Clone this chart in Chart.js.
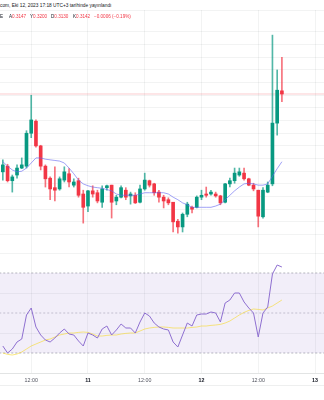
<!DOCTYPE html>
<html>
<head>
<meta charset="utf-8">
<script src="https://cdn.jsdelivr.net/npm/chart.js@4.4.0/dist/chart.umd.min.js"></script>
<style>
body{margin:0;background:#fff;width:324px;height:400px;overflow:hidden;position:relative;font-family:"Liberation Sans",Arial,sans-serif}
canvas{position:absolute;left:0}
#main{top:10px}
#rsi{top:253px}
.t{position:absolute;white-space:nowrap;font-size:10px;line-height:12px;color:#131722;z-index:2;transform:scale(0.46);transform-origin:0 0}
.r{color:#f23645}
</style>
</head>
<body>
<canvas id="main" width="324" height="243"></canvas>
<canvas id="rsi" width="324" height="147"></canvas>
<div class="t" style="left:0;top:3px;transform:scale(0.48)">com, Eki 12, 2023 17:18 UTC+3 tarihinde yayınlandı</div>
<script>
// hourly candles, first one = Oct 10 06:00 (hour -18 from Oct 11 00:00)
const opens = [0.3019,0.3028,0.3005,0.3014,0.3025,0.3028,0.3080,0.3099,0.3060,0.3028,
  0.3009,0.2994,0.2992,0.3006,0.3016,0.2998,0.3005,0.2984,0.2965,0.2989,
  0.2986,0.2971,0.2994,0.2998,0.2973,0.2979,0.2990,0.2981,0.2982,0.2971,
  0.2992,0.3005,0.3000,0.2987,0.2979,0.2975,0.2971,0.2941,0.2932,0.2952,
  0.2963,0.2963,0.2979,0.2984,0.2984,0.2984,0.2981,0.2971,0.3000,0.3005,
  0.3014,0.3017,0.3008,0.2998,0.2990,0.2948,0.2987,0.3000,0.3096,0.3147]
const highs = [0.3038,0.3031,0.3014,0.3030,0.3041,0.3084,0.3140,0.3101,0.3061,0.3030,
  0.3011,0.3027,0.3011,0.3027,0.3024,0.3008,0.3009,0.2990,0.2990,0.2997,
  0.2990,0.2997,0.2998,0.2998,0.2982,0.2997,0.2994,0.2987,0.2986,0.2998,
  0.3017,0.3006,0.3001,0.2990,0.2982,0.2978,0.2971,0.2944,0.2954,0.2971,
  0.2965,0.2981,0.2990,0.2995,0.2990,0.2987,0.2982,0.3001,0.3009,0.3025,
  0.3025,0.3025,0.3009,0.3001,0.2990,0.2994,0.3003,0.3235,0.3180,0.3200]
const lows = [0.3006,0.3003,0.2987,0.3009,0.3024,0.3025,0.3073,0.3058,0.3022,0.2995,
  0.2975,0.2973,0.2990,0.3003,0.2995,0.2995,0.2979,0.2938,0.2956,0.2979,
  0.2970,0.2963,0.2990,0.2946,0.2967,0.2978,0.2975,0.2968,0.2969,0.2970,
  0.2990,0.2995,0.2982,0.2971,0.2962,0.2967,0.2924,0.2922,0.2924,0.2948,
  0.2954,0.2962,0.2975,0.2979,0.2982,0.2979,0.2967,0.2970,0.2995,0.3001,
  0.3012,0.3006,0.2997,0.2989,0.2932,0.2946,0.2986,0.2997,0.3077,0.3130]
const closes = [0.3030,0.3005,0.3011,0.3025,0.3030,0.3080,0.3101,0.3060,0.3028,0.3008,
  0.2992,0.2990,0.3008,0.3019,0.3003,0.3003,0.2982,0.2963,0.2989,0.2984,
  0.2973,0.2992,0.2997,0.2971,0.2979,0.2994,0.2979,0.2984,0.2970,0.2992,
  0.3006,0.2998,0.2986,0.2979,0.2973,0.2970,0.2940,0.2932,0.2952,0.2968,
  0.2960,0.2979,0.2982,0.2982,0.2987,0.2981,0.2970,0.3000,0.3005,0.3017,
  0.3019,0.3008,0.2998,0.2992,0.2949,0.2990,0.2998,0.3096,0.3148,0.3142]
const ma = [0.3035,0.3028,0.3022,0.3019,0.3020,0.3025,0.3033,0.3041,0.3041,0.3039,
  0.3038,0.3037,0.3036,0.3033,0.3025,0.3016,0.3006,0.3000,0.2997,0.2995,
  0.2994,0.2993,0.2991,0.2989,0.2984,0.2982,0.2982,0.2982,0.2982,0.2984,
  0.2986,0.2986,0.2986,0.2986,0.2986,0.2984,0.2979,0.2975,0.2970,0.2967,
  0.2963,0.2963,0.2963,0.2963,0.2963,0.2965,0.2968,0.2975,0.2982,0.2989,
  0.2995,0.3000,0.3001,0.3000,0.2998,0.2998,0.3000,0.3012,0.3024,0.3035]
const rsi = [33.5,30,32,35.5,37,49,52.5,43,39,36.5,
  35.5,37.5,40,42,39.5,39,36,33.5,40,39,
  37.5,42,43.5,39,41.5,44.5,42.5,42.5,40,45.5,
  50,48.5,45,43,42,41.5,35.5,33,39,45,
  43.5,49,49.5,49.5,50.5,50,45.5,55,56.5,60,
  60,55.5,52.5,50,38,50,53,69.5,74,73]
const rsiMa = [30,29.3,29,29.5,30.5,32,33.5,34.5,35.5,36.5,
  37,38,39,39.5,40,40,40.3,40.5,40.3,39.5,
  38.5,38.5,38.8,39,39,39.5,39.8,40,40,41,
  42,42.5,42.8,43,43,42.8,42.5,42.5,42.5,42.5,
  42.8,43,43.5,43.5,43.8,44,44.3,45,46,47.5,
  49,50.3,51.3,52,51.8,51.5,52.5,53.5,55,56.5]
const rsiLevels = [70, 50, 30]
const tickHours = [-12, 0, 12, 24, 36, 48]
const tickLabels = ['12:00', '11', '12:00', '12', '12:00', '13']

const firstHour = -18
const hours = opens.map((_, i) => i + firstHour)
const xMin = -18.6, xMax = 49.9
const up = '#089981', down = '#f23645'
const candleColors = opens.map((o, i) => closes[i] >= o ? up : down)
const wickColors = opens.map((o, i) => closes[i] >= o ? 'rgba(8,153,129,0.7)' : 'rgba(242,54,69,0.7)')
const last = closes.length - 1

// legend line: symbol tail + last candle OHLC + change
const chg = closes[last] - closes[last - 1]
const pct = chg / closes[last - 1] * 100
const sign = v => v < 0 ? '\u2212' : '+'
const items = [
  ['E', '', 0],
  ['A', opens[last].toFixed(4), 9],
  ['Y', highs[last].toFixed(4), 29.5],
  ['D', lows[last].toFixed(4), 51],
  ['K', closes[last].toFixed(4), 72.5],
  ['', sign(chg) + Math.abs(chg).toFixed(4) + ' (' + sign(pct) + Math.abs(pct).toFixed(2) + '%)', 93.5]
]
items.forEach(([k, v, left]) => {
  const d = document.createElement('div')
  d.className = 't'
  d.style.left = left + 'px'
  d.style.top = '14px'
  d.innerHTML = k + '<span class="r">' + v + '</span>'
  document.body.appendChild(d)
})

const gridColor = 'rgba(42,46,57,0.06)'
const setTicks = s => { s.ticks = tickHours.map(v => ({value: v})) }

new Chart(document.getElementById('main'), {
  type: 'bar',
  data: {
    datasets: [
      {
        type: 'line',
        data: hours.map((h, i) => ({x: h, y: ma[i]})),
        borderColor: 'rgba(98,100,240,0.6)',
        borderWidth: 1,
        pointRadius: 0
      },
      {
        data: hours.map((h, i) => ({x: h, y: [opens[i], closes[i]]})),
        backgroundColor: candleColors,
        barThickness: 3,
        grouped: false,
        minBarLength: 1
      },
      {
        data: hours.map((h, i) => ({x: h, y: [lows[i], highs[i]]})),
        backgroundColor: wickColors,
        barThickness: 1,
        grouped: false
      },
      {
        type: 'line',
        data: [{x: xMin - 1, y: closes[last]}, {x: xMax + 1, y: closes[last]}],
        borderColor: 'rgba(242,54,69,0.25)',
        borderWidth: 1,
        pointRadius: 0
      }
    ]
  },
  options: {
    responsive: false,
    animation: false,
    events: [],
    layout: {padding: 0},
    plugins: {legend: {display: false}, tooltip: {enabled: false}},
    scales: {
      x: {
        type: 'linear', min: xMin, max: xMax, offset: false,
        grid: {offset: false, color: gridColor, drawTicks: false},
        border: {display: false},
        ticks: {display: false},
        afterBuildTicks: setTicks,
        afterFit: s => { s.height = 0 }
      },
      y: {
        min: 0.28908, max: 0.32747,
        grid: {color: gridColor, drawTicks: false},
        border: {display: false},
        ticks: {display: false, stepSize: 0.002},
        afterFit: s => { s.width = 0 }
      }
    }
  }
})

const levelLine = (v, alpha, fill) => ({
  data: [{x: xMin - 1, y: v}, {x: xMax + 1, y: v}],
  borderColor: 'rgba(120,123,134,' + alpha + ')',
  borderDash: [2, 2],
  borderWidth: 1,
  pointRadius: 0,
  fill: fill,
  backgroundColor: 'rgba(126,87,194,0.1)'
})

new Chart(document.getElementById('rsi'), {
  type: 'line',
  data: {
    datasets: [
      {data: hours.map((h, i) => ({x: h, y: rsi[i]})), borderColor: '#8e6fd0', borderWidth: 1, pointRadius: 0},
      {data: hours.map((h, i) => ({x: h, y: rsiMa[i]})), borderColor: 'rgba(247,217,42,0.6)', borderWidth: 1, pointRadius: 0},
      levelLine(rsiLevels[0], 0.55, '+2'),
      levelLine(rsiLevels[1], 0.4, false),
      levelLine(rsiLevels[2], 0.55, false)
    ]
  },
  options: {
    responsive: false,
    animation: false,
    events: [],
    layout: {padding: {bottom: 15}},
    plugins: {legend: {display: false}, tooltip: {enabled: false}},
    scales: {
      x: {
        type: 'linear', min: xMin, max: xMax,
        grid: {color: gridColor, drawTicks: false},
        border: {color: 'rgba(42,46,57,0.08)'},
        ticks: {
          padding: 4, autoSkip: false, maxRotation: 0,
          color: ctx => ctx.tick && ctx.tick.value % 24 === 0 ? '#131722' : '#50535e',
          font: ctx => ({family: '"Liberation Sans", Arial, sans-serif', size: 5.3,
            weight: ctx.tick && ctx.tick.value % 24 === 0 ? 'bold' : 'normal'}),
          callback: (v, i) => tickLabels[i]
        },
        afterBuildTicks: setTicks,
        afterFit: s => { s.height = 12 }
      },
      y: {
        min: 20, max: 80,
        grid: {color: gridColor, drawTicks: false},
        border: {display: false},
        ticks: {display: false, stepSize: 20},
        afterFit: s => { s.width = 0 }
      }
    }
  },
  plugins: [{
    id: 'axisFoot',
    afterDraw(c) {
      const g = c.ctx
      const y = c.chartArea.bottom + 12.5
      g.save()
      g.strokeStyle = 'rgba(42,46,57,0.08)'
      g.beginPath()
      g.moveTo(0, y)
      g.lineTo(c.width, y)
      g.stroke()
      g.restore()
    }
  }]
})
</script>
</body>
</html>
